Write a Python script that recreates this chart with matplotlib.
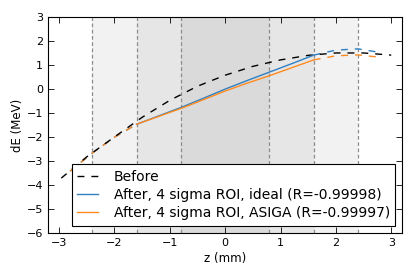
import matplotlib
matplotlib.use("Agg")
import matplotlib.pyplot as plt

# Before (dashed black)
z_before = [-2.96, -2.5, -2.0, -1.5, -1.0, -0.5, 0.0, 0.5, 1.0, 1.5, 2.0, 2.5, 3.0]
de_before = [-3.72, -2.83, -2.0, -1.18, -0.47, 0.12, 0.58, 0.95, 1.22, 1.41, 1.51, 1.51, 1.42]

# After, inside ROI (solid)
z_roi = [-1.6, -1.2, -0.8, -0.4, 0.0, 0.4, 0.8, 1.2, 1.6]
de_ideal_roi = [-1.47, -1.12, -0.77, -0.39, 0.0, 0.36, 0.71, 1.06, 1.42]
de_asiga_roi = [-1.47, -1.14, -0.81, -0.45, -0.08, 0.25, 0.56, 0.89, 1.22]

# After, outside ROI (dashed)
z_left = [-2.8, -2.4, -2.0, -1.6]
de_ideal_left = [-3.43, -2.67, -2.01, -1.47]
de_asiga_left = [-3.43, -2.67, -2.01, -1.47]
z_right = [1.6, 2.0, 2.4, 2.8]
de_ideal_right = [1.42, 1.63, 1.68, 1.53]
de_asiga_right = [1.22, 1.39, 1.43, 1.33]

# sigma boundaries and shade of each band
bands = [(-2.4, -1.6, "#f2f2f2"), (-1.6, -0.8, "#e6e6e6"), (-0.8, 0.8, "#dadada"),
         (0.8, 1.6, "#e6e6e6"), (1.6, 2.4, "#f2f2f2")]
vlines = [-2.4, -1.6, -0.8, 0.8, 1.6, 2.4]

plt.rcParams["xtick.direction"] = "in"
plt.rcParams["ytick.direction"] = "in"
plt.rcParams["xtick.top"] = True
plt.rcParams["ytick.right"] = True

fig = plt.figure(figsize=(4.15, 2.77), dpi=100)
ax = fig.add_axes([48 / 415, 1 - 232.7 / 277, (402.3 - 48) / 415, (232.7 - 17.3) / 277])

for lo, hi, c in bands:
    ax.axvspan(lo, hi, color=c, lw=0, zorder=0)
for v in vlines:
    ax.axvline(v, color="0.55", lw=0.9, ls=(0, (3, 2)), zorder=1)

blue = "#2f7fc1"
orange = "#ff8a1f"
ax.plot(z_before, de_before, color="black", lw=1, ls=(0, (5, 5)), label="Before", zorder=3)
ax.plot(z_roi, de_ideal_roi, color=blue, lw=1, label="After, 4 sigma ROI, ideal (R=-0.99998)", zorder=4)
ax.plot(z_roi, de_asiga_roi, color=orange, lw=1, label="After, 4 sigma ROI, ASIGA (R=-0.99997)", zorder=4)
ax.plot(z_left, de_ideal_left, color=blue, lw=1, ls=(0, (5, 5)), zorder=2)
ax.plot(z_right, de_ideal_right, color=blue, lw=1, ls=(0, (5, 5)), zorder=2)
ax.plot(z_left, de_asiga_left, color=orange, lw=1, ls=(0, (5, 5)), zorder=2)
ax.plot(z_right, de_asiga_right, color=orange, lw=1, ls=(0, (5, 5)), zorder=2)

ax.set_xlim(-3.2, 3.2)
ax.set_ylim(-6, 3)
ax.set_xticks(range(-3, 4))
ax.set_yticks(range(-6, 4))
ax.tick_params(labelsize=8, length=4, width=0.6)
ax.set_xlabel("z (mm)", fontsize=8.5, labelpad=3)
ax.set_ylabel("dE (MeV)", fontsize=8.5, labelpad=2)

leg = ax.legend(loc="lower right", fontsize=10, fancybox=False, framealpha=1,
                edgecolor="black", handlelength=1.5, handletextpad=1.1,
                labelspacing=0.3, borderpad=0.4, borderaxespad=0.5)
leg.get_frame().set_linewidth(0.8)

fig.savefig("out.png", dpi=100, facecolor="white")
